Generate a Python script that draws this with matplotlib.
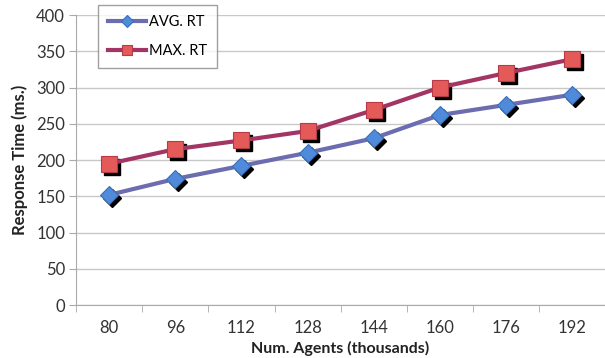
import matplotlib
matplotlib.use("Agg")
import matplotlib.pyplot as plt
import matplotlib.transforms as mtransforms
import numpy as np

categories = ["80", "96", "112", "128", "144", "160", "176", "192"]
avg_rt = [152, 174, 192, 210, 230, 262, 276, 290]
max_rt = [195, 215, 227, 240, 269, 300, 320, 339]

plt.rcParams['font.family'] = ['Lato', 'DejaVu Sans']

fig = plt.figure(figsize=(6.05, 3.58), dpi=100)
ax = fig.add_axes([0.126, 0.148, 0.874, 0.81])

x = np.arange(len(categories))

shadow = mtransforms.offset_copy(ax.transData, fig=fig, x=3, y=-3, units='dots')

# shadows
ax.plot(x, avg_rt, linestyle='none', marker='D', markersize=9, color='black',
        transform=shadow, zorder=3)
ax.plot(x, max_rt, linestyle='none', marker='s', markersize=11, color='black',
        transform=shadow, zorder=3)

ax.plot(x, avg_rt, color='#6C6CB0', linewidth=3, marker='D', markersize=9,
        markerfacecolor='#4F8BDA', markeredgecolor='#3A6FB8', markeredgewidth=0.8,
        label='AVG. RT', zorder=4)
ax.plot(x, max_rt, color='#A33565', linewidth=3, marker='s', markersize=11,
        markerfacecolor='#E35A58', markeredgecolor='#B83A48', markeredgewidth=0.8,
        label='MAX. RT', zorder=4)

ax.set_xlim(-0.5, len(categories) - 0.5)
ax.set_ylim(0, 400)
ax.set_yticks(np.arange(0, 401, 50))
ax.set_xticks(x)
ax.set_xticklabels(categories)
ax.set_xticks(np.arange(-0.5, len(categories), 1), minor=True)
ax.tick_params(axis='x', which='major', length=0, pad=11, labelsize=12, colors='#333333')
ax.tick_params(axis='x', which='minor', length=5, color='#AAAAAA', direction='out')
ax.tick_params(axis='y', length=5, color='#AAAAAA', labelsize=12, colors='#333333', pad=3)

ax.grid(axis='y', color='#C8C8C8', linewidth=1)
ax.set_axisbelow(True)
for s in ['top', 'right']:
    ax.spines[s].set_visible(False)
for s in ['left', 'bottom']:
    ax.spines[s].set_color('#AAAAAA')

ax.set_ylabel('Response Time (ms.)', fontweight='bold', fontsize=12, color='#222222', labelpad=6)
ax.set_xlabel('Num. Agents (thousands)', fontweight='bold', fontsize=11.5, color='#222222', labelpad=3)

leg = ax.legend(loc='upper left', bbox_to_anchor=(98 / 605, 1 - 5 / 358),
                bbox_transform=fig.transFigure, frameon=True, fancybox=False,
                edgecolor='#888888', fontsize=10.5, handlelength=2.6, borderpad=0.7,
                labelspacing=1.0, handletextpad=0.2, markerscale=0.7, borderaxespad=0)
leg.get_frame().set_linewidth(1)

fig.savefig('out.png', dpi=100)
